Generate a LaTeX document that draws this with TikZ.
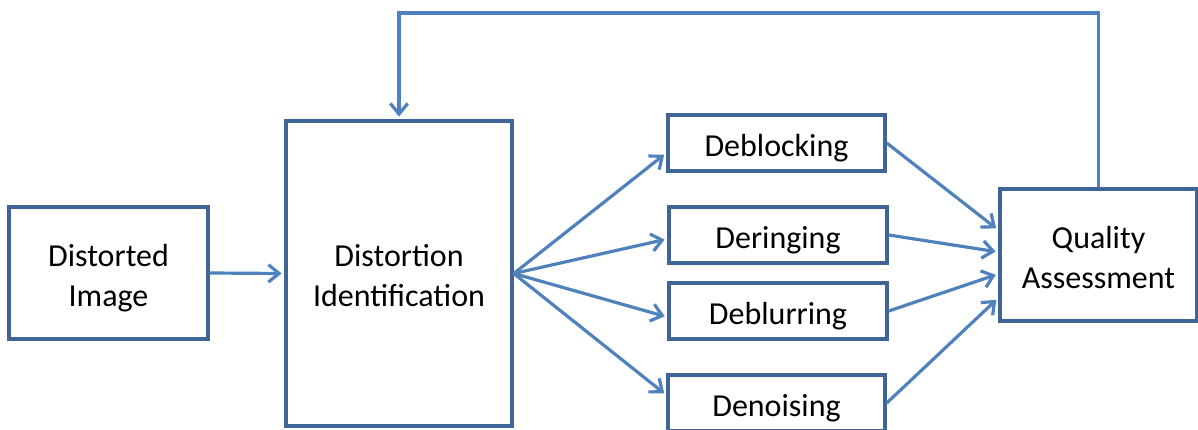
\documentclass[tikz,border=0pt]{standalone}
\usepackage{fontspec}
\setmainfont{Carlito}
\usetikzlibrary{arrows.meta}
\definecolor{boxblue}{HTML}{3F6597}
\definecolor{lineblue}{HTML}{4F81BD}
\newcommand{\txtpad}[1]{\rule{0pt}{#1}}

\begin{document}
\begin{tikzpicture}[x=0.75pt,y=0.75pt,yscale=-1,xscale=1,
  box/.style={draw=boxblue,line width=2.6pt,fill=white,inner sep=0pt,align=center,
    font=\fontsize{24}{30}\selectfont},
  flow/.style={draw=lineblue,line width=2.4pt,-{Straight Barb[length=8pt,width=13pt,line width=2.4pt]},shorten >=2pt}]
\useasboundingbox (0,0) rectangle (1198,429);

% Boxes
\node [box,minimum width=149.25pt,minimum height=99pt] (dimg) at (108.5,273) {\txtpad{24pt}Distorted\\Image};
\node [box,minimum width=169.5pt,minimum height=228.75pt] (dident) at (399,273.5) {\txtpad{20pt}Distortion\\Identification};
\node [box,minimum width=162.75pt,minimum height=42pt] (deblock) at (776.5,143) {\txtpad{24pt}Deblocking};
\node [box,minimum width=163.5pt,minimum height=42pt] (dering) at (778,235) {\txtpad{24pt}Deringing};
\node [box,minimum width=163.5pt,minimum height=42pt] (deblur) at (778,311) {\txtpad{24pt}Deblurring};
\node [box,minimum width=162.75pt,minimum height=42pt] (denoise) at (776.5,403) {\txtpad{24pt}Denoising};
\node [box,minimum width=147.75pt,minimum height=99pt] (qa) at (1098.5,255) {\txtpad{21pt}Quality\\Assessment};

% Input
\draw [flow] (dimg.east) -- (dident.west);

% Fan out
\draw [flow] (dident.east) -- ([yshift=7.5pt]deblock.west);
\draw [flow] (dident.east) -- ([yshift=3pt]dering.west);
\draw [flow] (dident.east) -- ([yshift=4.5pt]deblur.west);
\draw [flow] (dident.east) -- ([yshift=-6pt]denoise.west);

% Fan in
\draw [flow] (deblock.east) -- ([yshift=-18.75pt]qa.west);
\draw [flow] (dering.east) -- ([yshift=-2.25pt]qa.west);
\draw [flow] (deblur.east) -- ([yshift=14.25pt]qa.west);
\draw [flow] (denoise.east) -- ([yshift=32.25pt]qa.west);

% Feedback
\coordinate (fb) at (0,13);
\draw [flow] (qa.north) -- (qa.north |- fb) -| (dident.north);

\end{tikzpicture}
\end{document}
